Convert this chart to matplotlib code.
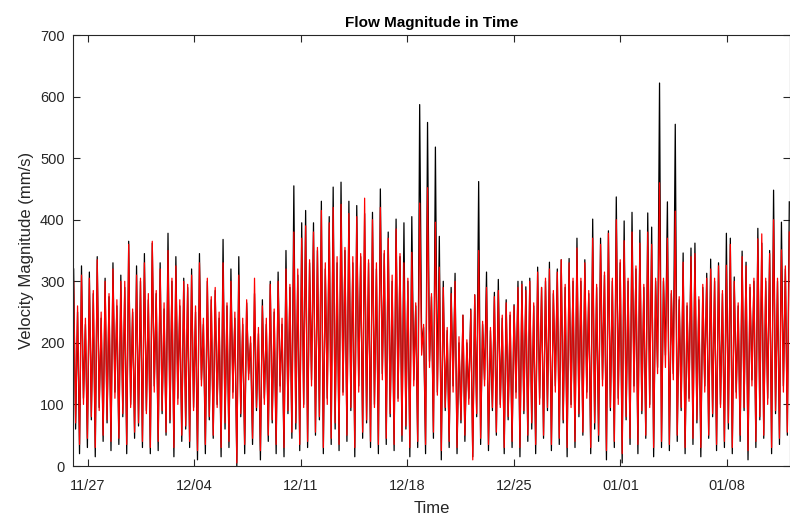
import matplotlib
matplotlib.use("Agg")
import matplotlib.pyplot as plt
import matplotlib.dates as mdates
import numpy as np
import pandas as pd

# Peak / trough values (mm/s), alternating peak, trough, peak ...
black_peaks = [
    320, 250, 325, 230, 315, 280, 340, 240, 305, 275,
    330, 260, 310, 290, 365, 250, 325, 300, 345, 270,
    362, 280, 330, 255, 378, 300, 340, 260, 305, 290,
    320, 250, 345, 230, 300, 270, 285, 240, 368, 260,
    320, 240, 340, 230, 265, 200, 280, 215, 270, 230,
    300, 250, 315, 230, 350, 290,
    455, 310, 395, 415, 330, 395, 350, 430, 320, 405,
    453, 330, 461, 350, 430, 330, 423, 340, 410, 330,
    412, 320, 450, 345, 380, 300, 401, 340, 395, 300,
    405, 260, 587, 225, 558, 275, 518, 373,
    300, 220, 290, 313, 200, 245, 200, 255, 278, 462,
    230, 315, 220, 282, 303, 240, 270, 245, 262, 300,
    300, 291, 305, 260, 323, 290, 300, 331, 280, 320,
    335, 290, 337, 300, 370, 300, 335, 280, 401, 290,
    370, 310, 382, 300, 437, 330, 398, 300, 412, 320,
    383, 290, 411, 388, 300, 622, 300, 429, 280, 555,
    270, 346, 260, 354, 362, 270, 290, 313, 336, 300,
    330, 280, 378, 370, 307, 260, 349, 331, 290, 300,
    386, 362, 300, 350, 448, 300, 396, 320, 429,
]
red_peaks = [
    300, 260, 310, 240, 305, 285, 335, 250, 300, 280,
    320, 270, 300, 300, 360, 255, 310, 305, 330, 280,
    365, 285, 320, 265, 350, 305, 325, 270, 300, 295,
    310, 260, 330, 240, 305, 275, 290, 250, 330, 265,
    300, 250, 310, 240, 270, 210, 305, 225, 260, 240,
    295, 255, 300, 240, 320, 295,
    380, 320, 370, 390, 335, 380, 355, 415, 330, 395,
    420, 340, 425, 355, 410, 340, 405, 345, 435, 335,
    400, 330, 420, 350, 370, 310, 385, 345, 330, 305,
    347, 265, 427, 230, 452, 280, 396, 323,
    290, 225, 280, 300, 210, 245, 205, 253, 278, 350,
    235, 290, 225, 275, 285, 245, 265, 250, 260, 290,
    295, 285, 300, 265, 315, 290, 305, 320, 285, 315,
    335, 295, 330, 305, 354, 305, 330, 285, 370, 295,
    360, 315, 378, 305, 400, 335, 366, 305, 380, 325,
    362, 295, 380, 360, 305, 460, 305, 370, 285, 414,
    275, 331, 265, 340, 345, 275, 295, 305, 320, 305,
    325, 285, 326, 360, 300, 265, 340, 325, 295, 305,
    369, 377, 305, 345, 400, 305, 351, 325, 380,
]
black_troughs = [
    60, 20, 110, 30, 75, 15, 95, 40, 70, 25,
    120, 35, 80, 20, 100, 45, 65, 30, 90, 20,
    130, 25, 85, 50, 70, 15, 110, 40, 60, 30,
    95, 10, 140, 20, 75, 45, 100, 15, 60, 30,
    120, 0, 80, 20, 150, 35, 90, 10, 110, 40,
    70, 20, 130, 15, 85, 45, 60, 25, 100, 30,
    140, 50, 75, 20, 110, 35, 60, 25, 120, 40,
    90, 15, 130, 45, 70, 30, 100, 20, 150, 35,
    80, 25, 110, 40, 60, 15, 140, 30, 200, 20,
    170, 45, 120, 10, 90, 30, 130, 20, 70, 40,
    110, 15, 80, 35, 140, 25, 90, 50, 100, 20,
    75, 30, 120, 15, 85, 40, 60, 20, 110, 45,
    90, 25, 130, 35, 70, 15, 100, 30, 80, 50,
    120, 20, 60, 40, 140, 10, 90, 30, 110, 5,
    75, 35, 130, 20, 85, 45, 100, 15, 160, 30,
    180, 25, 150, 40, 90, 20, 110, 35, 70, 15,
    130, 45, 80, 25, 100, 30, 60, 20, 120, 40,
    90, 10, 140, 30, 75, 45, 110, 20, 85, 35,
    130, 50,
]
red_troughs = [
    70, 35, 100, 45, 80, 30, 90, 50, 75, 40,
    110, 45, 85, 35, 95, 55, 70, 40, 85, 30,
    120, 40, 90, 55, 75, 30, 100, 50, 65, 40,
    90, 25, 130, 35, 80, 50, 95, 30, 70, 40,
    110, 5, 85, 35, 140, 45, 95, 25, 100, 50,
    75, 35, 120, 30, 90, 55, 70, 35, 95, 40,
    130, 55, 80, 30, 100, 45, 70, 35, 115, 50,
    95, 30, 120, 55, 75, 40, 95, 35, 140, 45,
    85, 35, 105, 50, 65, 30, 130, 40, 180, 35,
    160, 55, 115, 25, 95, 40, 120, 30, 75, 50,
    100, 10, 85, 45, 130, 35, 95, 55, 95, 30,
    80, 40, 110, 30, 90, 50, 70, 35, 100, 50,
    95, 35, 120, 45, 75, 30, 95, 40, 85, 55,
    110, 30, 70, 50, 130, 25, 95, 40, 100, 20,
    80, 45, 120, 35, 90, 50, 95, 30, 150, 40,
    160, 35, 140, 50, 95, 30, 105, 45, 75, 30,
    120, 50, 85, 35, 95, 40, 70, 30, 110, 50,
    95, 25, 130, 40, 80, 50, 100, 30, 90, 45,
    120, 55,
]
x_tick_labels = ["11/27", "12/04", "12/11", "12/18", "12/25", "01/01", "01/08"]
y_ticks = [0, 100, 200, 300, 400, 500, 600, 700]


def interleave(peaks, troughs):
    out = []
    for i, p in enumerate(peaks):
        out.append(p)
        if i < len(troughs):
            out.append(troughs[i])
    return np.array(out, dtype=float)


black = interleave(black_peaks, black_troughs)
red = interleave(red_peaks, red_troughs)
times = pd.date_range("2020-11-26 02:00", periods=len(black), freq="186min")

W, H = 790, 518
fig = plt.figure(figsize=(W / 100, H / 100), dpi=100)
ax = fig.add_axes([73 / W, (H - 466) / H, (790 - 73) / W, (466 - 35) / H])

ax.plot(times, black, color="black", lw=0.9)
ax.plot(times, red, color="red", lw=0.9)

ax.set_xlim(pd.Timestamp("2020-11-26 01:00"), pd.Timestamp("2021-01-12 03:30"))
ax.set_ylim(0, 700)
ax.set_yticks(y_ticks)
tick_dates = pd.date_range("2020-11-27", periods=len(x_tick_labels), freq="7D")
ax.set_xticks(tick_dates)
ax.set_xticklabels(x_tick_labels)

fam = ["Liberation Sans", "DejaVu Sans"]
tc = "#262626"
ax.tick_params(axis="both", direction="in", length=5, width=0.8, colors=tc,
               labelsize=10.5, top=True, right=True)
ax.tick_params(axis="x", pad=9)
ax.tick_params(axis="y", pad=6)
for lab in ax.get_xticklabels() + ax.get_yticklabels():
    lab.set_fontfamily(fam)
for s in ax.spines.values():
    s.set_color(tc)
    s.set_linewidth(0.8)

ax.set_title("Flow Magnitude in Time", fontsize=11, fontweight="bold",
             family=fam, color="black", pad=6)
ax.set_xlabel("Time", fontsize=12, family=fam, color=tc, labelpad=6)
ax.set_ylabel("Velocity Magnitude (mm/s)", fontsize=12, family=fam, color=tc, labelpad=4)

fig.savefig("out.png", dpi=100)
